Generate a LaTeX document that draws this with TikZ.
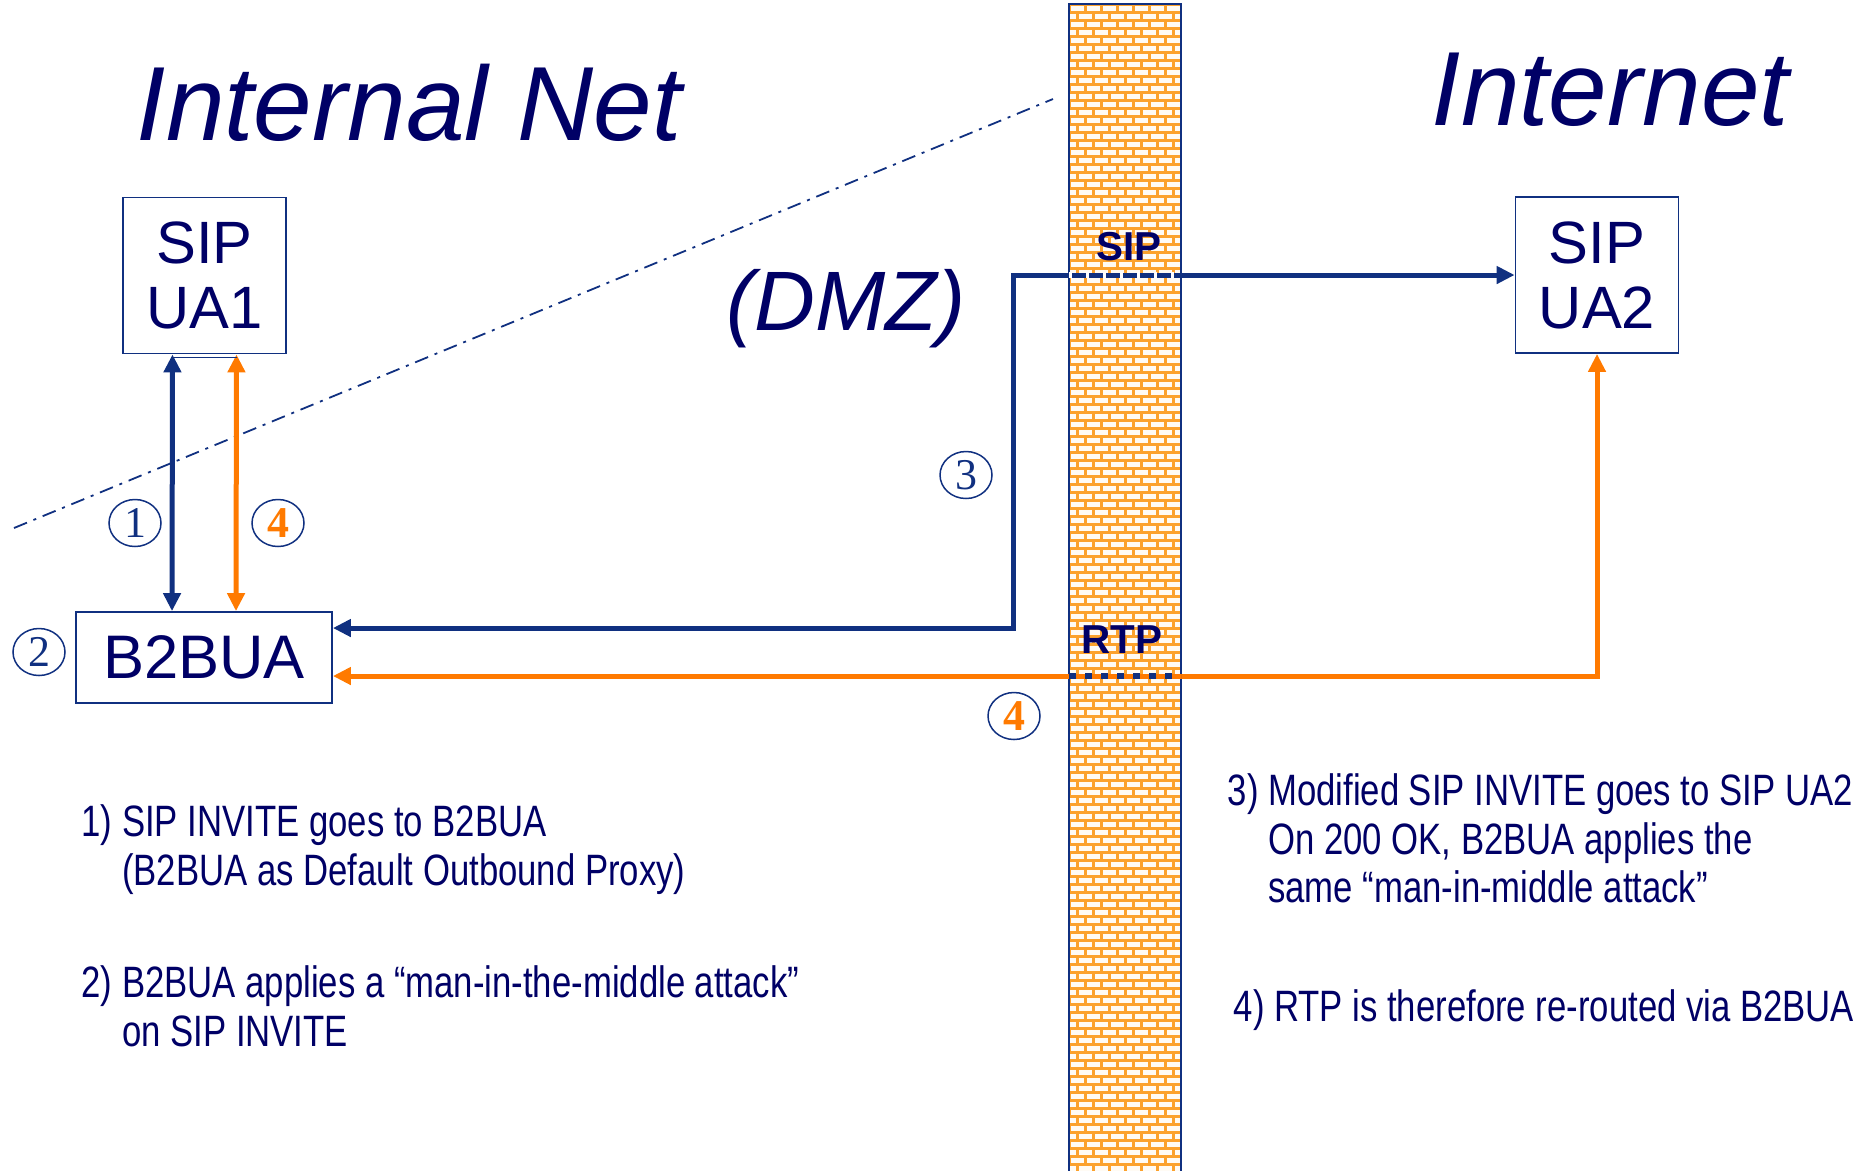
\documentclass[tikz,border=0pt]{standalone}
\usepackage{fontspec}
\setmainfont{Liberation Sans}
\newfontfamily\narrowfont[FakeStretch=0.79]{Liberation Sans}
\newfontfamily\numfont{Liberation Serif}
\usetikzlibrary{arrows.meta, shapes.geometric}
\definecolor{navy}{RGB}{0, 0, 102}
\definecolor{lineblue}{RGB}{16, 48, 128}
\definecolor{rtporange}{RGB}{255, 122, 0}
\definecolor{mortar}{RGB}{252, 162, 45}
\definecolor{brickface}{RGB}{255, 251, 244}

\begin{document}
\begin{tikzpicture}[x=0.1mm, y=-0.1mm,
    title/.style   = {font=\fontsize{30}{32}\selectfont\itshape\color{navy}, inner sep=0},
    ua/.style      = {draw=lineblue, line width=0.18mm, minimum width=16.3mm, minimum height=15.6mm,
                      inner sep=0, align=center, text=navy, font=\fontsize{17}{18.5}\selectfont},
    walltag/.style = {font=\fontsize{11.5}{12}\selectfont\bfseries\color{navy}, inner sep=0},
    numtag/.style  = {ellipse, draw=lineblue, line width=0.15mm, minimum width=5.2mm, minimum height=4.7mm,
                      inner sep=0, text=lineblue, font=\numfont\fontsize{12.5}{12.5}\selectfont},
    hot/.style     = {text=rtporange, font=\numfont\bfseries\fontsize{12.5}{12.5}\selectfont},
    note/.style    = {font=\narrowfont\fontsize{12.5}{13.8}\selectfont\color{navy}, align=left, inner sep=0},
    sigarr/.style  = {draw=lineblue, line width=0.5mm, >={Triangle[width=1.7mm, length=1.8mm]}, <->},
    mediaarr/.style= {draw=rtporange, line width=0.5mm, >={Triangle[width=1.7mm, length=1.8mm]}, <->},
    dmzline/.style = {draw=lineblue, line width=0.18mm, dash pattern=on 1.4mm off 0.7mm on 0.3mm off 0.7mm},
    rtpdots/.style = {draw=lineblue, line width=0.65mm, dash pattern=on 0.7mm off 0.9mm},
  ]
    \useasboundingbox (0,0) rectangle (1872,1170);

    % --- firewall ---
    \node[fill=mortar, inner sep=0, outer sep=0, minimum width=11.2mm, minimum height=116.8mm] (wall) at (1125,588) {};
    \begin{scope}
      \clip (wall.north west) rectangle (wall.south east);
      \foreach \r in {0,...,146} {
        \pgfmathsetmacro\off{mod(\r,2)*8}
        \foreach \k in {-1,...,7}
          \fill[brickface] (1069+\off+\k*16+1.5, 4+\r*8+1.5) rectangle ++(13,5);
      }
    \end{scope}
    \draw[lineblue, line width=0.2mm] (wall.south west) -- (wall.north west) -- (wall.north east) -- (wall.south east);

    % --- zone titles ---
    \node[title, anchor=base west] (innet) at (136,140) {Internal Net};
    \node[title, anchor=base west] (inet) at (1431,125) {Internet};
    \node[font=\fontsize{24}{26}\selectfont\itshape\color{navy}, inner sep=0, anchor=base] (dmz) at (846,330) {(DMZ)};

    % dmz boundary
    \coordinate (dmzlo) at (14,528);
    \coordinate (dmzhi) at (1053,99);
    \draw[dmzline] (dmzlo) -- (dmzhi);

    % --- endpoints ---
    \node[ua] (ua1) at (204.5,275.5) {SIP\\UA1};
    \node[ua] (ua2) at (1597,275) {SIP\\UA2};
    \node[ua, minimum width=25.6mm, minimum height=9.1mm, font=\fontsize{17.5}{19}\selectfont] (b2bua) at (204,657.5) {B2BUA};

    \node[walltag, anchor=base] (siptag) at (1129,260) {SIP};
    \node[walltag, anchor=base] (rtptag) at (1122,653) {RTP};

    % --- signalling and media ---
    \draw[sigarr] ([xshift=-3.2mm]ua1.south) -- ([xshift=-3.2mm]b2bua.north);
    \draw[mediaarr] ([xshift=3.2mm]ua1.south) -- ([xshift=3.2mm]b2bua.north);
    \draw[lineblue, line width=0.15mm] ([xshift=-3.2mm, yshift=-0.3mm]ua1.south) -- ([xshift=3.2mm, yshift=-0.3mm]ua1.south);

    \coordinate (sipbend) at (1013,628);
    \draw[sigarr] (b2bua.east |- sipbend) -- (sipbend) |- (ua2.west);
    \draw[white, line width=0.55mm, dash pattern=on 0.3mm off 1.4mm] (wall.west |- ua2.west) -- (wall.east |- ua2.west);

    \coordinate (rtpbend) at (1597,676);
    \draw[mediaarr] (b2bua.east |- rtpbend) -- (rtpbend) -- (ua2.south);
    \draw[rtpdots] (wall.west |- rtpbend) -- (wall.east |- rtpbend);

    % --- step markers ---
    \node[numtag] (n1) at (135,523) {1};
    \node[numtag, hot] (n4a) at (278,523) {4};
    \node[numtag] (n2) at (39,652) {2};
    \node[numtag] (n3) at (966,475) {3};
    \node[numtag, hot] (n4b) at (1014,716) {4};

    % --- notes ---
    \node[note, anchor=north west] (note1) at (81,804)
      {1) SIP INVITE goes to B2BUA\\\hphantom{1)~}(B2BUA as Default Outbound Proxy)};
    \node[note, anchor=north west] (note2) at (81,965)
      {2) B2BUA applies a “man-in-the-middle attack”\\\hphantom{2)~}on SIP INVITE};
    \node[note, anchor=north west] (note3) at (1227,773)
      {3) Modified SIP INVITE goes to SIP UA2\\\hphantom{3)~}On 200 OK, B2BUA applies the\\\hphantom{3)~}same “man-in-middle attack”};
    \node[note, anchor=north west] (note4) at (1233,989)
      {4) RTP is therefore re-routed via B2BUA};

  \end{tikzpicture}
\end{document}
